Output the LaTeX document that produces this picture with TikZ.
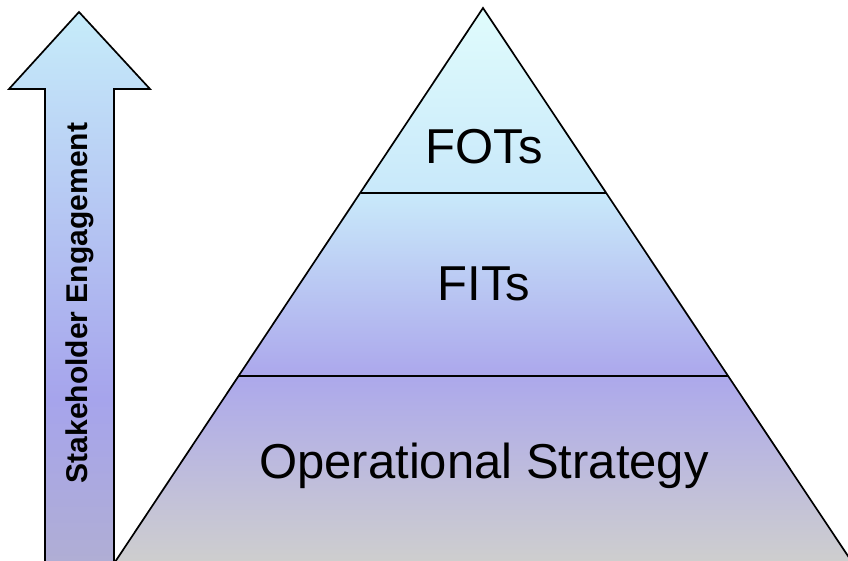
\documentclass[tikz,border=0pt]{standalone}
\usepackage{fontspec}
\setmainfont{Liberation Sans}
\definecolor{pcyan}{RGB}{224,252,252}
\definecolor{pblue}{RGB}{200,232,250}
\definecolor{plav}{RGB}{172,168,236}
\definecolor{pgray}{RGB}{206,206,206}
\definecolor{acyan}{RGB}{198,236,250}
\definecolor{alav}{RGB}{166,164,236}
\definecolor{agray}{RGB}{176,174,212}
\pgfdeclareverticalshading{pyrshade}{100bp}{color(0bp)=(pgray); color(25bp)=(pgray); color(42bp)=(plav); color(58bp)=(pblue); color(75bp)=(pcyan); color(100bp)=(pcyan)}
\pgfdeclareverticalshading{arrshade}{100bp}{color(0bp)=(agray); color(25bp)=(agray); color(40bp)=(alav); color(75bp)=(acyan); color(100bp)=(acyan)}
\tikzset{
  outline/.style={draw=black, line width=1.7pt, line join=miter},
  bigtext/.style={font=\fontsize{49}{58}\selectfont, text=black, inner sep=0pt},
  sidetext/.style={font=\fontsize{30}{36}\selectfont\bfseries, text=black, inner sep=0pt, rotate=90}
}
\begin{document}
\begin{tikzpicture}[x=1pt,y=-1pt]
\useasboundingbox (0,0) rectangle (848,560);
\fill[white] (0,0) rectangle (848,560);
% pyramid
\coordinate (apex) at (483,8);
\coordinate (bl) at (115,562);
\coordinate (br) at (852,562);
\shade[shading=pyrshade] (apex) -- (br) -- (bl) -- cycle;
\draw[outline] (bl) -- (apex) -- (br);
\coordinate (l1) at (360.5,193);
\coordinate (r1) at (605.5,193);
\coordinate (l2) at (238,376);
\coordinate (r2) at (728,376);
\draw[outline] (l1) -- (r1);
\draw[outline] (l2) -- (r2);
\node[bigtext] (fots) at (484,147) {FOTs};
\node[bigtext] (fits) at (484,284) {FITs};
\node[bigtext] (ops) at (484,466) {Operational Strategy};
% arrow
\shade[shading=arrshade] (45,564) -- (45,89) -- (9,89) -- (79,12) -- (150,89) -- (114,89) -- (114,564) -- cycle;
\draw[outline] (45,564) -- (45,89) -- (9,89) -- (79,12) -- (150,89) -- (114,89) -- (114,564);
\node[sidetext] (se) at (80,303) {Stakeholder Engagement};
\end{tikzpicture}
\end{document}
